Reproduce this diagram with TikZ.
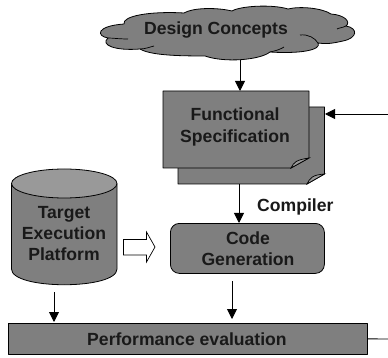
\documentclass[tikz,border=0pt]{standalone}
\usepackage{fontspec}
\setmainfont{Liberation Sans}
\usetikzlibrary{arrows.meta}
\definecolor{boxgray}{HTML}{7F7F7F}
\definecolor{topgray}{HTML}{999999}
\tikzset{
  x=1pt,y=-1pt,
  shapeline/.style={draw=black,line width=0.8pt,fill=boxgray,line join=round},
  label/.style={font=\bfseries\fontsize{17.6}{21.3}\selectfont,align=center,inner sep=0pt,text=black!90},
  conn/.style={draw=black,line width=0.9pt,-{Triangle[length=10pt,width=10pt]},shorten >=0pt},
  plain/.style={draw=black,line width=0.9pt},
  hollow/.style={draw=black,line width=0.7pt,fill=white},
  crease/.style={line width=0.7pt}
}
\begin{document}
\begin{tikzpicture}
\useasboundingbox (0,0) rectangle (388,358);
% cloud
\draw[shapeline] (124,24)
 .. controls (122,16) and (150,11) .. (184,13)
 .. controls (192,8) and (215,7) .. (232,11)
 .. controls (240,6) and (272,4) .. (288,9)
 .. controls (300,6) and (322,8) .. (331,14)
 .. controls (345,15) and (351,22) .. (346,26)
 .. controls (358,28) and (358,38) .. (343,41)
 .. controls (330,44) and (325,44) .. (318,43)
 .. controls (322,50) and (300,54) .. (270,52)
 .. controls (260,60) and (225,63) .. (205,56)
 .. controls (175,56) and (150,55) .. (140,49)
 .. controls (115,51) and (100,45) .. (108,38)
 .. controls (96,36) and (96,26) .. (124,24) -- cycle;
\draw[crease] (108,38) .. controls (113,38) and (119,39) .. (128,39);
\draw[crease] (140,49) .. controls (145,49) and (150,47) .. (154,46);
\draw[crease] (270,52) .. controls (280,50) and (284,47) .. (284,47);
\draw[crease] (300,35) .. controls (308,34) and (315,38) .. (318,43);
\draw[crease] (346,26) .. controls (342,28) and (338,28) .. (337,29);
\node[label] (cloud) at (216,30) {Design Concepts};
% back sheet
\draw[shapeline] (178,107) -- (324.5,107) -- (324.5,174) -- (307,184) -- (178,184) -- cycle;
\draw[crease,fill=topgray] (307,184) .. controls (310,178) and (312,175) .. (324.5,174) -- cycle;
% front sheet
\draw[shapeline] (163,91) -- (309,91) -- (309,158) -- (291,168) -- (163,168) -- cycle;
\draw[crease,fill=topgray] (291,168) .. controls (294,162) and (296,160) .. (309,158) -- cycle;
\node[label] (spec) at (235,127) {Functional\\Specification};
% cylinder
\draw[shapeline] (11.5,184) -- (11.5,269) .. controls (11.5,290) and (117,290) .. (117,269) -- (117,184) -- cycle;
\draw[line width=0.8pt,fill=topgray] (64.25,183.5) ellipse[x radius=52.75,y radius=14.5];
\node[label] (platform) at (64,233.5) {Target\\Execution\\Platform};
% code generation
\node[shapeline,rounded corners=9pt,minimum width=154pt,minimum height=50pt,anchor=north west,inner sep=0pt] (code) at (170,223) {};
\node[label] at (248,249) {Code\\Generation};
% performance
\node[shapeline,minimum width=359pt,minimum height=31pt,anchor=north west,inner sep=0pt] (perf) at (8,323) {};
\node[label] at (187,339) {Performance evaluation};
\node[label,anchor=west] (comp) at (257,207) {Compiler};
% hollow arrow
\draw[hollow] (123.5,239.5) -- (146.5,239.5) -- (146.5,232) -- (155,247) -- (146.5,262) -- (146.5,255) -- (123.5,255) -- cycle;
% connectors
\coordinate (c1a) at (240,60);
\coordinate (c1b) at (240,91);
\draw[conn] (c1a) -- (c1b);
\coordinate (r1) at (388,114);
\coordinate (r2) at (325,114);
\draw[conn] (r1) -- (r2);
\coordinate (c2a) at (239,184);
\coordinate (c2b) at (239,223);
\draw[conn] (c2a) -- (c2b);
\coordinate (c3a) at (232,281);
\coordinate (c3b) at (232,319);
\draw[conn] (c3a) -- (c3b);
\coordinate (c4a) at (54,292);
\coordinate (c4b) at (54,322);
\draw[conn] (c4a) -- (c4b);
\coordinate (r3) at (388,339);
\draw[plain] (perf.east) -- (r3);
\end{tikzpicture}
\end{document}
